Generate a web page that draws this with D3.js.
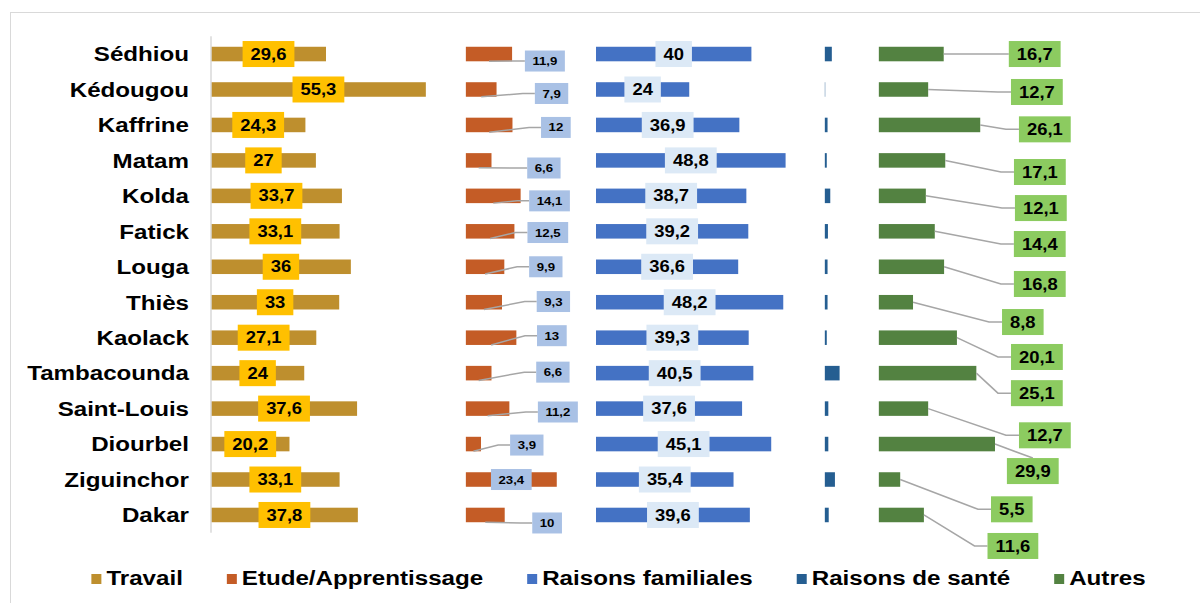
<!DOCTYPE html>
<html>
<head>
<meta charset="utf-8">
<script src="https://cdn.jsdelivr.net/npm/d3@7"></script>
<style>
  body { margin: 0; background: #fff; }
  text { font-family: "Liberation Sans", Arial, sans-serif; font-weight: bold; fill: #000; }
</style>
</head>
<body>
<script>
// data (%)
const regions = ["Sédhiou", "Kédougou", "Kaffrine", "Matam", "Kolda", "Fatick", "Louga", "Thiès",
  "Kaolack", "Tambacounda", "Saint-Louis", "Diourbel", "Ziguinchor", "Dakar"];
const travail = [29.6, 55.3, 24.3, 27, 33.7, 33.1, 36, 33, 27.1, 24, 37.6, 20.2, 33.1, 37.8];
const etude = [11.9, 7.9, 12, 6.6, 14.1, 12.5, 9.9, 9.3, 13, 6.6, 11.2, 3.9, 23.4, 10];
const familiales = [40, 24, 36.9, 48.8, 38.7, 39.2, 36.6, 48.2, 39.3, 40.5, 37.6, 45.1, 35.4, 39.6];
const sante = [1.8, 0.1, 0.7, 0.5, 1.4, 0.8, 0.7, 0.7, 0.5, 3.8, 0.9, 0.9, 2.6, 1.0];
const autres = [16.7, 12.7, 26.1, 17.1, 12.1, 14.4, 16.8, 8.8, 20.1, 25.1, 12.7, 29.9, 5.5, 11.6];
const seriesNames = ["Travail", "Etude/Apprentissage", "Raisons familiales", "Raisons de santé", "Autres"];

// layout
const colors = ["#BE8F2E", "#C45C26", "#4472C4", "#255E91", "#538241"];
const panelStart = [0, 65.6, 99.1, 158.0, 171.9];  // where each panel begins, in value units
const SX = 1.15; // the picture is a bit stretched horizontally

// manual label offsets (px) from bar end / bar centre
const etudeDx = [32.8, 55, 43.4, 52.4, 28.9, 33.4, 41.5, 51.4, 35.5, 61.4, 48.5, 45.8, null, 42.4];
const etudeDy = [7, 4, 2.5, 7.6, 5, 1.2, 0, -0.7, -2, -1, 3.4, 1, 0, 8];
const autresDx = [91, 108.7, 64.6, 94.6, 115, 105, 95.7, 109.8, 80, 60.5, 116.7, 37.8, 111.6, 89];
const autresDy = [0, 2.5, 4.4, 11.6, 12.2, 12.7, 17.2, 19.8, 19.3, 20, 26.7, 27, 29.8, 31];

const fmt = v => String(v).replace(".", ",");

const svg = d3.select("body").append("svg")
  .attr("width", 1200).attr("height", 603);

// frame
svg.append("rect")
  .attr("x", 10.5).attr("y", 12.5).attr("width", 1300).attr("height", 700)
  .attr("fill", "none").attr("stroke", "#D9D9D9");

const x = d3.scaleLinear().domain([0, 250]).range([211, 211 + 250 * 3.885]);
const y = d3.scaleBand().domain(regions).range([36.3, 532.7])
  .paddingInner(0.59).paddingOuter(0.295);

const barLayer = svg.append("g");
const leaderLayer = svg.append("g");
const labelLayer = svg.append("g");

// axis line
svg.append("line")
  .attr("x1", x(0)).attr("x2", x(0))
  .attr("y1", y.range()[0]).attr("y2", y.range()[1])
  .attr("stroke", "#D9D9D9").attr("stroke-width", 1.5);

// category labels
regions.forEach(r => {
  svg.append("text")
    .attr("transform", `translate(189,${y(r) + y.bandwidth() / 2}) scale(${SX},1)`)
    .attr("text-anchor", "end").attr("dy", "0.35em")
    .attr("font-size", 21).text(r);
});

const series = [travail, etude, familiales, sante, autres];
series.forEach((vals, s) => {
  barLayer.selectAll(null).data(vals).enter().append("rect")
    .attr("x", x(panelStart[s]))
    .attr("y", (d, i) => y(regions[i]))
    .attr("width", d => x(panelStart[s] + d) - x(panelStart[s]))
    .attr("height", y.bandwidth())
    .attr("fill", colors[s]);
});

function boxLabel(cx, cy, str, size, h, fill, pad) {
  const g = labelLayer.append("g");
  const r = g.append("rect").attr("fill", fill);
  const t = g.append("text")
    .attr("transform", `translate(${cx},${cy}) scale(${SX},1)`)
    .attr("text-anchor", "middle").attr("dy", "0.35em")
    .attr("font-size", size).text(str);
  const w = t.node().getComputedTextLength() * SX + 2 * pad;
  r.attr("x", cx - w / 2).attr("y", cy - h / 2).attr("width", w).attr("height", h);
  return w;
}

const leader = d3.line();
function drawLeader(pts) {
  leaderLayer.append("path").attr("d", leader(pts))
    .attr("fill", "none").attr("stroke", "#A6A6A6").attr("stroke-width", 1.5);
}

regions.forEach((r, i) => {
  const cy = y(r) + y.bandwidth() / 2;

  // Travail: centred
  const t0 = x(panelStart[0]), t1 = x(panelStart[0] + travail[i]);
  boxLabel((t0 + t1) / 2, cy, fmt(travail[i]), 16, 26, "#FFC000", 8);

  // Familiales: centred
  const f0 = x(panelStart[2]), f1 = x(panelStart[2] + familiales[i]);
  boxLabel((f0 + f1) / 2, cy, fmt(familiales[i]), 16, 26, "#DCE9F6", 8);

  // Etude: offset labels with leader lines
  const e0 = x(panelStart[1]), e1 = x(panelStart[1] + etude[i]);
  if (etudeDx[i] === null) {
    boxLabel((e0 + e1) / 2, cy, fmt(etude[i]), 11.5, 21, "#A9C1E5", 7.5);
  } else {
    const lx = e1 + etudeDx[i], ly = cy + etudeDy[i];
    const w = boxLabel(lx, ly, fmt(etude[i]), 11.5, 21, "#A9C1E5", 7.5);
    const left = lx - w / 2;
    drawLeader([[(e0 + e1) / 2, y(r) + y.bandwidth()], [left - 12, ly], [left, ly]]);
  }

  // Autres: offset labels with leader lines
  const a1 = x(panelStart[4] + autres[i]);
  const ax = a1 + autresDx[i], ay = cy + autresDy[i];
  const aw = boxLabel(ax, ay, fmt(autres[i]), 16, 26, "#8CCB60", 8);
  const aLeft = ax - aw / 2;
  if (aLeft - a1 < 25) {
    drawLeader([[a1, cy], [ax, ay - 13]]);
  } else {
    drawLeader([[a1, cy], [aLeft - 13, ay], [aLeft, ay]]);
  }
});

// legend
const legend = svg.append("g");
let items = [];
let cursor = 0;
seriesNames.forEach((name, s) => {
  const g = legend.append("g");
  g.append("rect").attr("x", 0).attr("y", -11).attr("width", 10).attr("height", 10)
    .attr("fill", colors[s]);
  const t = g.append("text")
    .attr("transform", `translate(15,0) scale(${SX},1)`)
    .attr("font-size", 21).text(name);
  const w = 15 + t.node().getComputedTextLength() * SX;
  items.push({ g, pos: cursor });
  cursor += w + 44;
});
const total = cursor - 44;
const startX = 618.5 - total / 2;
items.forEach(it => it.g.attr("transform", `translate(${startX + it.pos},585)`));
</script>
</body>
</html>
